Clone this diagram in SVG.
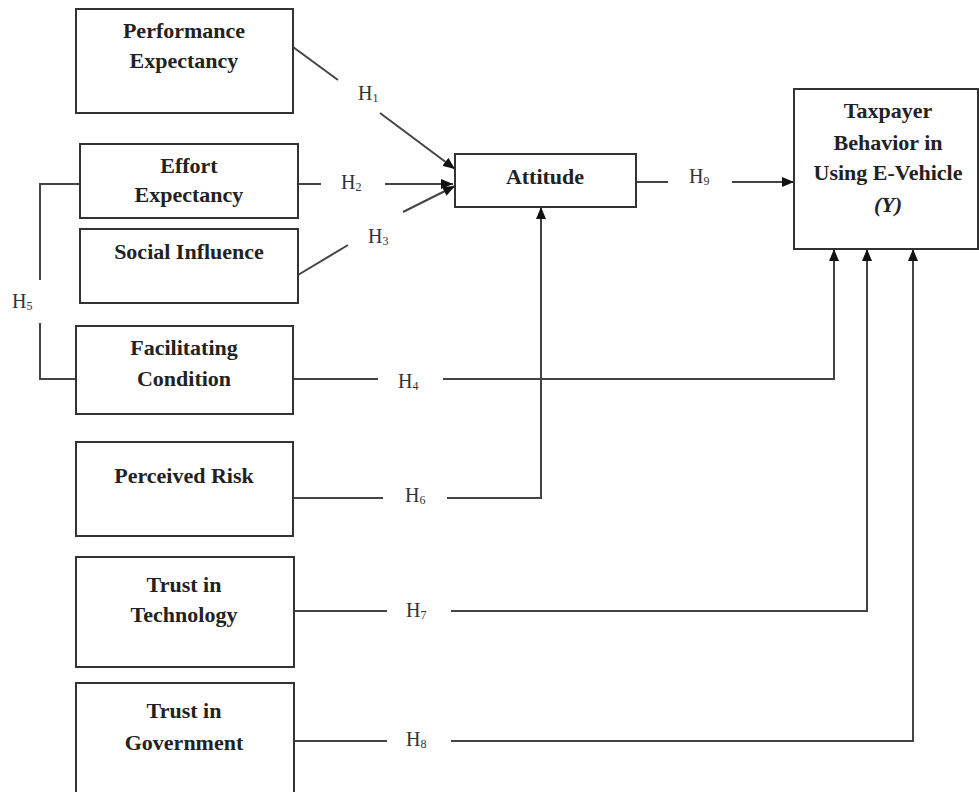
<svg xmlns="http://www.w3.org/2000/svg" width="979" height="792" viewBox="0 0 979 792">
<style>
.box{fill:#fff;stroke:#333;stroke-width:2}
.t{font-family:"Liberation Serif","Times New Roman",serif;font-weight:bold;font-size:22px;fill:#222;text-anchor:middle}
.h{font-family:"Liberation Serif","Times New Roman",serif;font-size:20px;fill:#333}
.s{font-size:12px}
.c{fill:none;stroke:#444;stroke-width:2}
</style>
<defs>
<marker id="ar" viewBox="0 0 12 10" refX="12" refY="5" markerWidth="12" markerHeight="10" markerUnits="userSpaceOnUse" orient="auto">
<path d="M0,0 L12,5 L0,10 Z" fill="#111"/>
</marker>
</defs>
<rect width="979" height="792" fill="#fff"/>
<g id="connectors">
<path class="c" d="M293,47 L338,80"/>
<path class="c" d="M380,113 L455,169" marker-end="url(#ar)"/>
<path class="c" d="M298,184 L321,184"/>
<path class="c" d="M385,184 L453,184" marker-end="url(#ar)"/>
<path class="c" d="M298,275 L348,245"/>
<path class="c" d="M403,212 L455,186" marker-end="url(#ar)"/>
<path class="c" d="M636,182 L668,182"/>
<path class="c" d="M732,182 L794,182" marker-end="url(#ar)"/>
<path class="c" d="M80,184 H40 V280"/>
<path class="c" d="M40,323 V379 H76"/>
<path class="c" d="M293,379 H378"/>
<path class="c" d="M443,379 H834 V249" marker-end="url(#ar)"/>
<path class="c" d="M293,498 H383"/>
<path class="c" d="M447,498 H541 V207" marker-end="url(#ar)"/>
<path class="c" d="M294,611 H387"/>
<path class="c" d="M451,611 H867 V249" marker-end="url(#ar)"/>
<path class="c" d="M294,741 H387"/>
<path class="c" d="M451,741 H913 V249" marker-end="url(#ar)"/>
<text class="h" x="358" y="100">H<tspan class="s" dy="2">1</tspan></text>
<text class="h" x="341" y="189">H<tspan class="s" dy="2">2</tspan></text>
<text class="h" x="368" y="243">H<tspan class="s" dy="2">3</tspan></text>
<text class="h" x="398" y="388">H<tspan class="s" dy="2">4</tspan></text>
<text class="h" x="12" y="308">H<tspan class="s" dy="2">5</tspan></text>
<text class="h" x="405" y="502">H<tspan class="s" dy="2">6</tspan></text>
<text class="h" x="406" y="617">H<tspan class="s" dy="2">7</tspan></text>
<text class="h" x="406" y="746">H<tspan class="s" dy="2">8</tspan></text>
<text class="h" x="689" y="183">H<tspan class="s" dy="2">9</tspan></text>
</g>
<g id="performance">
<rect class="box" x="76" y="9" width="217" height="104"/>
<text class="t" x="184" y="38">Performance</text>
<text class="t" x="184" y="68">Expectancy</text>
</g>
<g id="effort">
<rect class="box" x="80" y="144" width="218" height="74"/>
<text class="t" x="189" y="173">Effort</text>
<text class="t" x="189" y="202">Expectancy</text>
</g>
<g id="social">
<rect class="box" x="80" y="229" width="218" height="74"/>
<text class="t" x="189" y="259">Social Influence</text>
</g>
<g id="facilitating">
<rect class="box" x="76" y="326" width="217" height="88"/>
<text class="t" x="184" y="355">Facilitating</text>
<text class="t" x="184" y="386">Condition</text>
</g>
<g id="risk">
<rect class="box" x="76" y="442" width="217" height="94"/>
<text class="t" x="184" y="483">Perceived Risk</text>
</g>
<g id="trust-tech">
<rect class="box" x="76" y="557" width="218" height="110"/>
<text class="t" x="184" y="592">Trust in</text>
<text class="t" x="184" y="622">Technology</text>
</g>
<g id="trust-gov">
<rect class="box" x="76" y="683" width="218" height="120"/>
<text class="t" x="184" y="718">Trust in</text>
<text class="t" x="184" y="750">Government</text>
</g>
<g id="attitude">
<rect class="box" x="455" y="154" width="181" height="53"/>
<text class="t" x="545" y="184">Attitude</text>
</g>
<g id="taxpayer">
<rect class="box" x="794" y="89" width="184" height="160"/>
<text class="t" x="888" y="118">Taxpayer</text>
<text class="t" x="888" y="150">Behavior in</text>
<text class="t" x="888" y="180">Using E-Vehicle</text>
<text class="t" x="888" y="212" font-style="italic">(Y)</text>
</g>
</svg>
